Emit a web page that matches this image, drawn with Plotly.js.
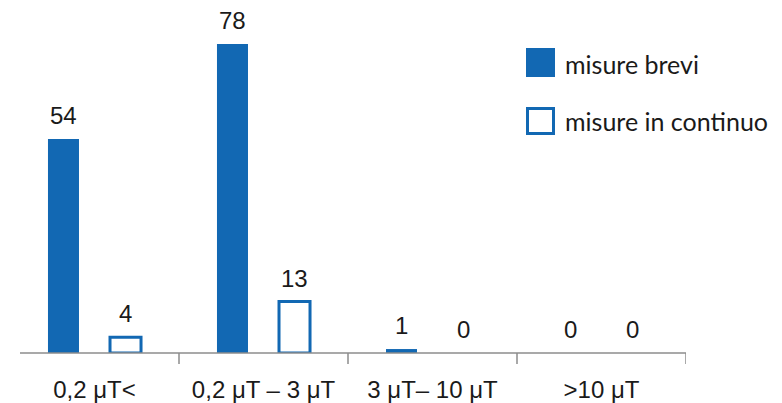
<!DOCTYPE html>
<html>
<head>
<meta charset="utf-8">
<script src="https://cdn.plot.ly/plotly-3.0.1.min.js"></script>
<style>html,body{margin:0;padding:0;background:#fff;}#chart{width:782px;height:403px;}</style>
</head>
<body>
<div id="chart"></div>
<script>
const categories = ["0,2 μT<", "0,2 μT – 3 μT", "3 μT– 10 μT", ">10 μT"];
const seriesNames = ["misure brevi", "misure in continuo"];
const misureBrevi = [54, 78, 1, 0];
const misureContinuo = [4, 13, 0, 0];

const BLUE = "#1268b3";
const W = 782, H = 403;
const M = {l: 10, r: 96, t: 0, b: 50};
const PW = W - M.l - M.r, PH = H - M.t - M.b;
const px = x => (x - M.l) / PW;
const py = y => (H - M.b - y) / PH;

const traces = [
  {type: "bar", name: seriesNames[0], x: categories, y: misureBrevi,
   marker: {color: BLUE, line: {width: 0}}, hoverinfo: "skip"},
  {type: "bar", name: seriesNames[1], x: categories, y: misureContinuo,
   marker: {color: "#ffffff", line: {color: BLUE, width: misureContinuo.map(v => v > 0 ? 3 : 0)}},
   hoverinfo: "skip"}
];

const labelFont = {family: "Liberation Sans, Arial, sans-serif", size: 24, color: "#1a1a1a"};
const annotations = [];
categories.forEach((c, i) => {
  annotations.push({x: c, y: misureBrevi[i], xref: "x", yref: "y", text: String(misureBrevi[i]),
    showarrow: false, xshift: -31, yshift: 8, yanchor: "bottom", font: labelFont});
  annotations.push({x: c, y: misureContinuo[i], xref: "x", yref: "y", text: String(misureContinuo[i]),
    showarrow: false, xshift: 31, yshift: 8, yanchor: "bottom", font: labelFont});
});
const legFont = {family: "Lato, Open Sans, sans-serif", size: 25, color: "#1a1a1a"};
annotations.push({xref: "paper", yref: "paper", x: px(563), y: py(64), xanchor: "left", yanchor: "middle",
  text: seriesNames[0], showarrow: false, font: legFont});
annotations.push({xref: "paper", yref: "paper", x: px(563), y: py(121), xanchor: "left", yanchor: "middle",
  text: seriesNames[1], showarrow: false, font: legFont});

const shapes = [
  // axis line
  {type: "line", xref: "paper", yref: "paper", x0: px(20), x1: px(686), y0: 0, y1: 0,
   line: {color: "#8c8c8c", width: 1.5}},
  // legend swatches
  {type: "rect", xref: "paper", yref: "paper", x0: px(526), x1: px(555), y0: py(77), y1: py(48),
   fillcolor: BLUE, line: {width: 0}},
  {type: "rect", xref: "paper", yref: "paper", x0: px(527.5), x1: px(553.5), y0: py(133.5), y1: py(108.5),
   fillcolor: "#ffffff", line: {color: BLUE, width: 3}}
];
// category boundary ticks
for (let i = 0; i < categories.length; i++) {
  shapes.push({type: "line", xref: "x", yref: "paper", x0: i + 0.5, x1: i + 0.5, y0: 0, y1: -11 / PH,
    line: {color: "#8c8c8c", width: 1.5}});
}

const layout = {
  width: W, height: H,
  margin: M,
  paper_bgcolor: "#ffffff", plot_bgcolor: "#ffffff",
  showlegend: false,
  barmode: "group", bargap: 0.266, bargroupgap: 0.5,
  xaxis: {type: "category", range: [-0.5, 3.5], showline: false, ticks: "", showgrid: false,
    zeroline: false, tickfont: {family: "Liberation Sans, Arial, sans-serif", size: 24, color: "#1a1a1a"},
    ticklabelstandoff: 20, fixedrange: true},
  yaxis: {range: [0, 89.1], visible: false, showgrid: false, zeroline: false, fixedrange: true},
  shapes: shapes,
  annotations: annotations
};

Plotly.newPlot("chart", traces, layout, {staticPlot: true, displayModeBar: false});
</script>
</body>
</html>
